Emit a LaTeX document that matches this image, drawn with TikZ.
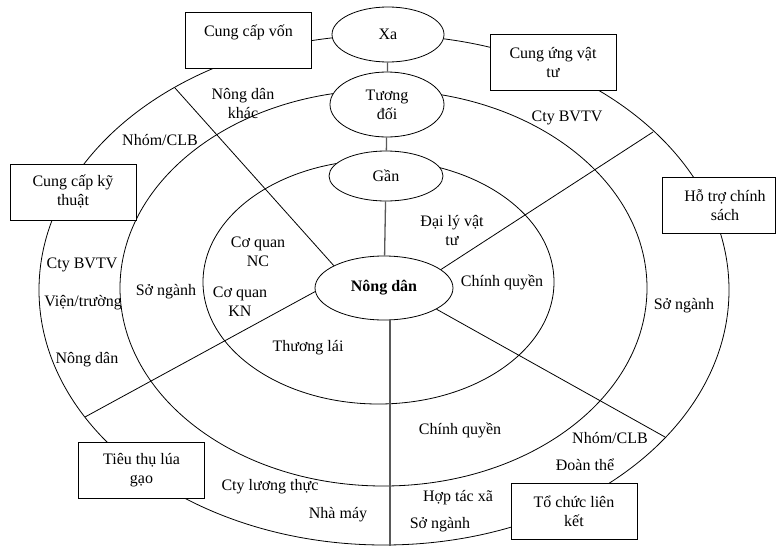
\documentclass[tikz,border=0pt]{standalone}
\usepackage{fontspec}
\setmainfont{Liberation Serif}
\usepackage{tikz}
\usetikzlibrary{shapes,arrows.meta,calc}

\begin{document}
\begin{tikzpicture}[x=1pt,y=-1pt,
        every node/.style={font=\fontsize{16}{19}\selectfont,align=center,inner sep=0pt},
        ring/.style={line width=0.8pt},
        spoke/.style={line width=0.8pt},
        link/.style={line width=1.3pt,black!65},
        level/.style={ellipse,draw,fill=white,line width=0.8pt},
        box/.style={rectangle,draw,fill=white,line width=0.8pt,minimum width=126pt,minimum height=56pt}]
        \useasboundingbox (0,0) rectangle (776,546);
        % ba vong
        \draw[ring] (384,290) ellipse [x radius=345pt, y radius=255pt];
        \draw[ring] (383.5,288) ellipse [x radius=263.5pt, y radius=198pt];
        \draw[ring] (378.5,282) ellipse [x radius=175.5pt, y radius=122pt];
        % muc do
        \node[level,minimum width=138pt,minimum height=64pt] (nd) at (384,288) {\textbf{Nông dân}};
        \node[level,minimum width=112pt,minimum height=55pt] (xa) at (388,34.5) {Xa};
        \node[level,minimum width=114pt,minimum height=65pt] (td) at (387,104.5) {Tương\\đối};
        \node[level,minimum width=114pt,minimum height=50pt] (gan) at (386,176) {Gần};
        \draw[link] (xa) -- (td);
        \draw[link] (td) -- (gan);
        \draw[link] (gan) -- (nd);
        \coordinate (bot) at (390,546);
        \draw[link] (nd.south -| bot) -- (bot);
        % nan
        \coordinate (r1) at (175,88);
        \coordinate (r2) at (653,132);
        \coordinate (r3) at (85,417);
        \coordinate (r4) at (665,437);
        \draw[spoke] (nd.156) -- (r1);
        \draw[spoke] (nd.18) -- (r2);
        \draw[spoke] (nd.183) -- (r3);
        \draw[spoke] (nd.338) -- (r4);
        % chuc nang
        \node[box] (von) at (248.5,40) {Cung cấp vốn\\~};
        \node[box] (vattu) at (553,62.5) {Cung ứng vật\\tư};
        \node[box] (kythuat) at (73,192) {Cung cấp kỹ\\thuật};
        \node[box,minimum width=113pt] (chinhsach) at (718.5,205.5) {\hspace*{13pt}Hỗ trợ chính\\\hspace*{13pt}sách};
        \node[box] (tieuthu) at (141.5,470) {Tiêu thụ lúa\\gạo};
        \node[box] (lienket) at (574,511) {Tổ chức liên\\kết};
        % tac nhan
        \node (ndkhac) at (243,103.5) {Nông dân\\khác};
        \node (clbA) at (160,140) {Nhóm/CLB};
        \node (bvtvA) at (567,118) {Cty BVTV};
        \node (cqnc) at (258,252) {Cơ quan\\NC};
        \node (bvtvB) at (82,265) {Cty BVTV};
        \node (daily) at (452,231) {Đại lý vật\\tư};
        \node (cqA) at (502,282) {Chính quyền};
        \node (songanhA) at (684,306) {Sở ngành};
        \node (vien) at (83,303) {Viện/trường};
        \node (songanhB) at (166,292) {Sở ngành};
        \node (cqkn) at (240,302) {Cơ quan\\KN};
        \node (ndB) at (87,360) {Nông dân};
        \node (thuonglai) at (308,348) {Thương lái};
        \node (ctylt) at (270,487) {Cty lương thực};
        \node (nhamay) at (338,515) {Nhà máy};
        \node (cqB) at (460,430) {Chính quyền};
        \node (clbB) at (610,438) {Nhóm/CLB};
        \node (doanthe) at (585,465) {Đoàn thể};
        \node (htx) at (458,498) {Hợp tác xã};
        \node (songanhC) at (440,525) {Sở ngành};
      \end{tikzpicture}
\end{document}
